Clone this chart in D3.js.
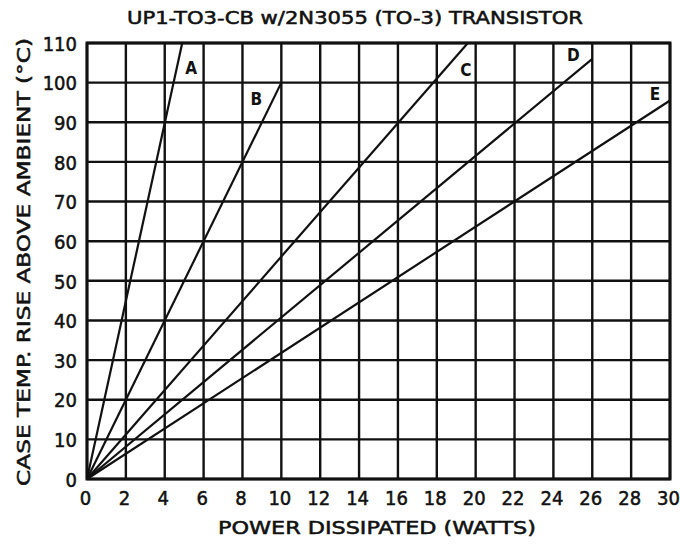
<!DOCTYPE html>
<html>
<head>
<meta charset="UTF-8"/>
<title>UP1-TO3-CB thermal chart</title>
<script src="https://cdn.jsdelivr.net/npm/d3@7"></script>
<style>
  body { margin: 0; background: #fff; }
  svg { display: block; }
  text { font-family: 'DejaVu Sans Condensed', 'DejaVu Sans', sans-serif; font-stretch: condensed; fill: #111; stroke: #111; stroke-width: 0.5; }
  .tick text { font-size: 20px; }
  .grid line { stroke: #111; stroke-width: 2.4; }
  .frame { fill: none; stroke: #111; stroke-width: 3; }
  .curve { stroke: #111; stroke-width: 2.2; fill: none; }
  .lbl { font-size: 17px; font-weight: bold; stroke-width: 0; }
  .title { font-size: 18px; }
  .axis-title { font-size: 18px; }
</style>
</head>
<body>
<svg width="680" height="544"></svg>
<script>
// values
const xTicks = [0, 2, 4, 6, 8, 10, 12, 14, 16, 18, 20, 22, 24, 26, 28, 30];
const yTicks = [0, 10, 20, 30, 40, 50, 60, 70, 80, 90, 100, 110];
const seriesNames = ['A', 'B', 'C', 'D', 'E'];
const endWatts = [4.9, 10, 19.6, 26, 30];
const endTemp = [110, 100, 110, 106, 95.5];

const svg = d3.select('svg');
const pLeft = 87, pRight = 670, pTop = 43, pBottom = 479;

const x = d3.scaleLinear().domain([0, 30]).range([pLeft, pRight]);
const y = d3.scaleLinear().domain([0, 110]).range([pBottom, pTop]);

// grid
const grid = svg.append('g').attr('class', 'grid');
grid.selectAll('line.v').data(xTicks).enter().append('line')
  .attr('x1', d => x(d)).attr('x2', d => x(d))
  .attr('y1', pTop).attr('y2', pBottom);
grid.selectAll('line.h').data(yTicks).enter().append('line')
  .attr('y1', d => y(d)).attr('y2', d => y(d))
  .attr('x1', pLeft).attr('x2', pRight);

svg.append('rect').attr('class', 'frame')
  .attr('x', pLeft).attr('y', pTop)
  .attr('width', pRight - pLeft).attr('height', pBottom - pTop);

// axes (labels only)
const xAxis = svg.append('g')
  .attr('transform', `translate(0,${pBottom + 8})`)
  .call(d3.axisBottom(x).tickValues(xTicks).tickSize(0).tickPadding(4));
xAxis.select('.domain').remove();
xAxis.selectAll('text').attr('dx', -2);

const yAxis = svg.append('g')
  .attr('transform', `translate(${pLeft - 8},0)`)
  .call(d3.axisLeft(y).tickValues(yTicks).tickSize(0).tickPadding(2));
yAxis.select('.domain').remove();
yAxis.selectAll('text').attr('dy', '0.36em');

svg.selectAll('.tick text').attr('font-family', null).attr('font-size', null);

// series lines from origin
const series = seriesNames.map((n, i) => ({ name: n, pts: [[0, 0], [endWatts[i], endTemp[i]]] }));
const line = d3.line().x(d => x(d[0])).y(d => y(d[1]));

svg.selectAll('path.curve').data(series).enter().append('path')
  .attr('class', 'curve')
  .attr('d', d => line(d.pts));

const labelOffset = [[9, 31], [-25, 22], [-2, 33], [-19, 2], [-15, 0]];
svg.selectAll('text.lbl').data(series).enter().append('text')
  .attr('class', 'lbl')
  .attr('text-anchor', 'middle')
  .attr('x', (d, i) => x(endWatts[i]) + labelOffset[i][0])
  .attr('y', (d, i) => y(endTemp[i]) + labelOffset[i][1])
  .text(d => d.name);

// titles
svg.append('text').attr('class', 'title')
  .attr('x', 355).attr('y', 24)
  .attr('text-anchor', 'middle')
  .attr('textLength', 456).attr('lengthAdjust', 'spacingAndGlyphs')
  .text('UP1-TO3-CB w/2N3055 (TO-3) TRANSISTOR');

svg.append('text').attr('class', 'axis-title')
  .attr('x', 377).attr('y', 534)
  .attr('text-anchor', 'middle')
  .attr('textLength', 318).attr('lengthAdjust', 'spacingAndGlyphs')
  .text('POWER DISSIPATED (WATTS)');

svg.append('text').attr('class', 'axis-title')
  .attr('transform', 'translate(30,262) rotate(-90)')
  .attr('text-anchor', 'middle')
  .attr('textLength', 448).attr('lengthAdjust', 'spacingAndGlyphs')
  .text('CASE TEMP. RISE ABOVE AMBIENT (°C)');
</script>
</body>
</html>
